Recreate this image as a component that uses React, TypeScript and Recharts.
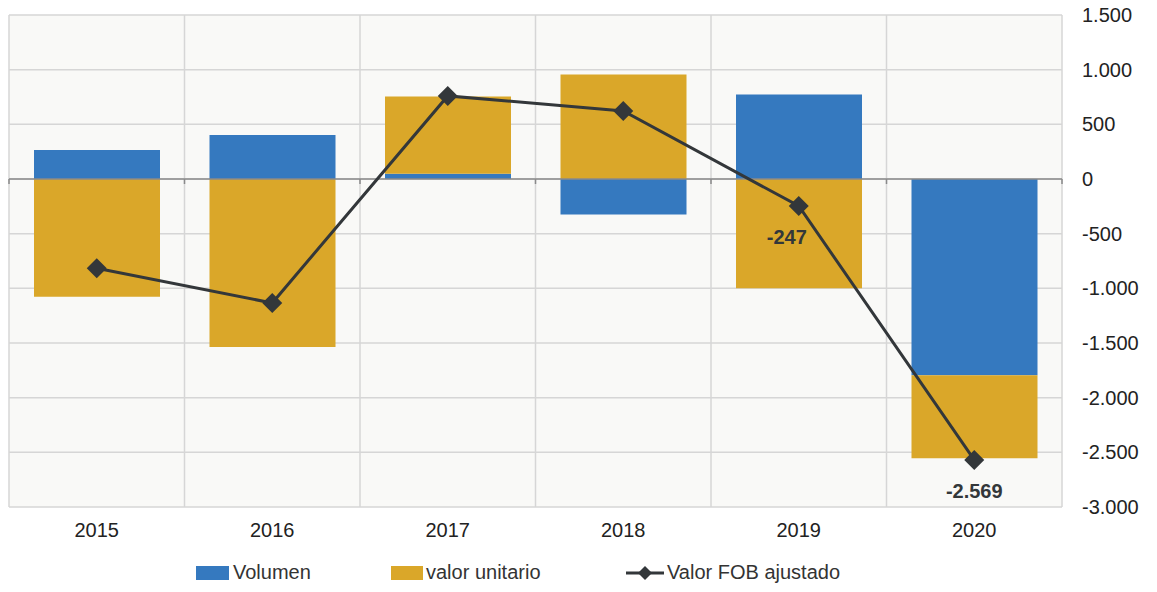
import { ComposedChart, Bar, Line, XAxis, YAxis, CartesianGrid, ReferenceLine } from 'recharts'

// variation of FOB value split into volume / unit-value effects
const years = ['2015', '2016', '2017', '2018', '2019', '2020']
const volumen = [266, 403, 48, -324, 773, -1794]
const valorUnitario = [-1076, -1537, 706, 956, -999, -760]
const valorFob = [-816, -1134, 760, 623, -247, -2569]
const fobLabels = ['', '', '', '', '-247', '-2.569']
const yTicks = [1500, 1000, 500, 0, -500, -1000, -1500, -2000, -2500, -3000]

const data = years.map((year, i) => ({
  year,
  volumen: volumen[i],
  valor: valorUnitario[i],
  fob: valorFob[i],
  label: fobLabels[i],
}))

const FONT = '"Liberation Sans", Arial, sans-serif'
const BLUE = '#3579bf'
const GOLD = '#daa729'
const DARK = '#33373a'
const GRID = '#d6d6d6'

const W = 1157
const H = 592

// label nudges so the text clears the line
const labelDx: Record<string, number> = { '2019': -12 }

function fmt(v: number) {
  const s = Math.abs(v).toString().replace(/\B(?=(\d{3})+(?!\d))/g, '.')
  return v < 0 ? '-' + s : s
}

function Diamond(props: any) {
  const { cx, cy, payload } = props
  if (cx == null || cy == null) return <g />
  const r = 10
  return (
    <g>
      <polygon points={`${cx},${cy - r} ${cx + r},${cy} ${cx},${cy + r} ${cx - r},${cy}`} fill={DARK} />
      {payload?.label ? (
        <text x={cx + (labelDx[payload.year] ?? 0)} y={cy + 38} textAnchor="middle"
          fontSize={20} fontWeight="bold" fill={DARK} fontFamily={FONT}>
          {payload.label}
        </text>
      ) : null}
    </g>
  )
}

function ZeroLine(props: any) {
  const { x1, x2, y1 } = props
  if (x1 == null) return <g />
  const n = years.length
  const step = (x2 - x1) / n
  return (
    <g>
      <line x1={x1} x2={x2} y1={y1} y2={y1} stroke="#8a8a8a" strokeWidth={1.5} />
      {Array.from({ length: n + 1 }, (_, i) => (
        <line key={i} x1={x1 + i * step} x2={x1 + i * step} y1={y1} y2={y1 + 5} stroke="#8a8a8a" strokeWidth={1.5} />
      ))}
    </g>
  )
}

function ChartLegend() {
  const txt = { position: 'absolute' as const, top: 25, lineHeight: '23px', whiteSpace: 'nowrap' as const }
  return (
    <div style={{ position: 'absolute', left: 8, top: 536, width: 1000, height: 50, fontFamily: FONT, fontSize: 20, color: '#333' }}>
      <div style={{ position: 'absolute', left: 188, top: 30, width: 33, height: 14, background: BLUE }} />
      <div style={{ ...txt, left: 225 }}>Volumen</div>
      <div style={{ position: 'absolute', left: 383, top: 30, width: 32, height: 14, background: GOLD }} />
      <div style={{ ...txt, left: 418 }}>valor unitario</div>
      <svg style={{ position: 'absolute', left: 618, top: 28 }} width={40} height={18}>
        <line x1={0} x2={38} y1={9} y2={9} stroke={DARK} strokeWidth={3} />
        <polygon points="19,2 26,9 19,16 12,9" fill={DARK} />
      </svg>
      <div style={{ ...txt, left: 659 }}>Valor FOB ajustado</div>
    </div>
  )
}

export default function App() {
  return (
    <div style={{ position: 'relative', width: W, height: H, margin: '-8px 0 -8px -8px' }}>
      <ComposedChart width={W} height={H} data={data} stackOffset="sign"
        margin={{ top: 15, right: 0, left: 9, bottom: 50 }} barCategoryGap={25}
        style={{ fontFamily: FONT }}>
        <CartesianGrid fill="#f9f9f7" stroke={GRID} strokeWidth={1.5}
          verticalCoordinatesGenerator={({ offset }: any) => {
            const left = offset?.left ?? 9
            const width = offset?.width ?? 1053
            return years.map((_, i) => left + (width * i) / years.length).concat(left + width)
          }} />
        <XAxis dataKey="year" height={35} axisLine={false} tickLine={false} tickMargin={10}
          tick={{ fontSize: 20, fill: '#222', fontFamily: FONT }} />
        <YAxis orientation="right" width={95} domain={[-3000, 1500]} ticks={yTicks} interval={0}
          allowDataOverflow axisLine={false} tickLine={false} tickSize={6} tickMargin={14}
          tickFormatter={fmt} tick={{ fontSize: 20, fill: '#222', fontFamily: FONT }} />
        <Bar dataKey="volumen" name="Volumen" stackId="a" fill={BLUE} isAnimationActive={false} />
        <Bar dataKey="valor" name="valor unitario" stackId="a" fill={GOLD} isAnimationActive={false} />
        <ReferenceLine y={0} shape={ZeroLine} />
        <Line dataKey="fob" name="Valor FOB ajustado" stroke={DARK} strokeWidth={3}
          dot={<Diamond />} activeDot={false} isAnimationActive={false} />
      </ComposedChart>
      <ChartLegend />
    </div>
  )
}
